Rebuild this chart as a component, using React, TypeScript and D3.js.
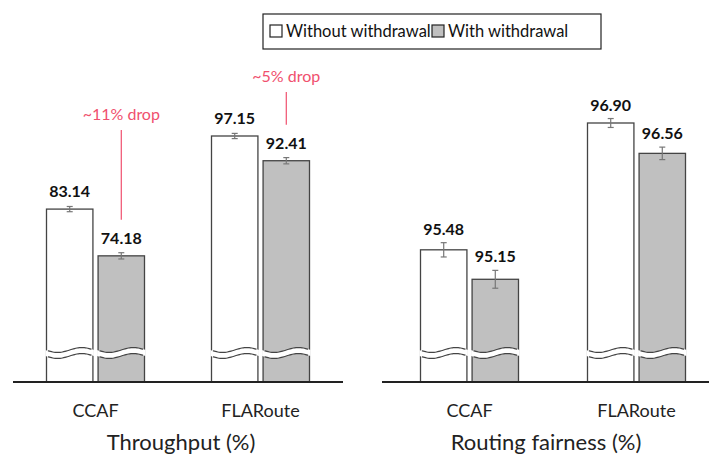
import { useRef, useEffect } from 'react';
import * as d3 from 'd3';

const categories = ['CCAF', 'FLARoute'];
const series = ['Without withdrawal', 'With withdrawal'];
const throughput = [[83.14, 74.18], [97.15, 92.41]];
const throughputErr = [[0.5, 0.6], [0.5, 0.6]];
const fairness = [[95.48, 95.15], [96.9, 96.56]];
const fairnessErr = [[0.08, 0.1], [0.05, 0.07]];
const drops = ['~11% drop', '~5% drop'];

const FONT = 'Lato, "Open Sans", sans-serif';

export default function App() {
  const svgRef = useRef<SVGSVGElement>(null);

  useEffect(() => {
    const svg = d3.select(svgRef.current);
    svg.selectAll('*').remove();
    const baseY = 382;
    const breakY = 353;

    const panels = [
      { title: 'Throughput (%)', values: throughput, err: throughputErr, range: [13, 343], line: [13, 343],
        y: d3.scaleLinear().domain([50, 97.15]).range([baseY, 136]) },
      { title: 'Routing fairness (%)', values: fairness, err: fairnessErr, range: [386, 720], line: [382, 709],
        y: d3.scaleLinear().domain([94, 96.9]).range([baseY, 123]) },
    ];

    panels.forEach((p, pi) => {
      const g = svg.append('g');
      const x0 = d3.scaleBand().domain(categories).range(p.range as [number, number]).paddingInner(0).paddingOuter(0);
      const x1 = d3.scaleBand().domain(series).range([-49, 49]).paddingInner(0.1);

      categories.forEach((c, ci) => {
        const cx = x0(c)! + x0.bandwidth() / 2;
        series.forEach((s, si) => {
          const v = p.values[ci][si];
          const bx = cx + x1(s)!;
          const bw = x1.bandwidth();
          const top = p.y(v);
          g.append('rect').attr('x', bx).attr('y', top).attr('width', bw).attr('height', baseY - top)
            .attr('fill', si === 0 ? '#fff' : '#c0c0c0').attr('stroke', '#444').attr('stroke-width', 1.3);
          // break
          const wave = (off: number) => d3.range(0, 21).map((i) => {
            const t = i / 20;
            return [bx - 1 + t * (bw + 2), breakY + off + 2.5 * Math.sin(t * Math.PI * 2)] as [number, number];
          });
          const upper = wave(-3);
          const lower = wave(3);
          const line = d3.line().curve(d3.curveBasis);
          g.append('path').attr('d', line(upper)! + 'L' + lower.slice().reverse().map((q) => q.join(',')).join('L') + 'Z')
            .attr('fill', '#fff').attr('stroke', 'none');
          g.append('path').attr('d', line(upper.slice(1, -1))).attr('fill', 'none').attr('stroke', '#444').attr('stroke-width', 1.2);
          g.append('path').attr('d', line(lower.slice(1, -1))).attr('fill', 'none').attr('stroke', '#444').attr('stroke-width', 1.2);
          // error bar
          const e = p.err[ci][si];
          const ex = bx + bw / 2;
          g.append('line').attr('x1', ex).attr('x2', ex).attr('y1', p.y(v + e)).attr('y2', p.y(v - e)).attr('stroke', '#777').attr('stroke-width', 1.2);
          [v + e, v - e].forEach((w) => g.append('line').attr('x1', ex - 3).attr('x2', ex + 3).attr('y1', p.y(w)).attr('y2', p.y(w)).attr('stroke', '#777').attr('stroke-width', 1.2));
          g.append('text').attr('x', ex).attr('y', Math.min(top - 12, p.y(v + e) - 8)).attr('text-anchor', 'middle')
            .attr('font-family', FONT).attr('font-weight', 'bold').attr('font-size', 16).attr('fill', '#111')
            .text(v.toFixed(2));
        });
        g.append('text').attr('x', cx).attr('y', 417).attr('text-anchor', 'middle')
          .attr('font-family', FONT).attr('font-size', 18).attr('fill', '#222').text(c);

        if (pi === 0) {
          const gx = cx + x1(series[1])! + x1.bandwidth() / 2;
          const gTop = p.y(p.values[ci][1]) - 36;
          const tY = ci === 0 ? 120 : 82;
          g.append('line').attr('x1', gx).attr('x2', gx).attr('y1', tY + 10).attr('y2', gTop)
            .attr('stroke', '#f0506e').attr('stroke-width', 1.2);
          g.append('text').attr('x', gx).attr('y', tY).attr('text-anchor', 'middle')
            .attr('font-family', FONT).attr('font-size', 16).attr('fill', '#f0506e').text(drops[ci]);
        }
      });

      g.append('line').attr('x1', p.line[0]).attr('x2', p.line[1]).attr('y1', baseY).attr('y2', baseY)
        .attr('stroke', '#222').attr('stroke-width', 1.8);
      g.append('text').attr('x', (p.range[0] + Math.min(p.range[1], 700)) / 2 + 3).attr('y', 450).attr('text-anchor', 'middle')
        .attr('font-family', FONT).attr('font-size', 22).attr('fill', '#222').text(p.title);
    });

    // legend
    const lg = svg.append('g');
    lg.append('rect').attr('x', 263).attr('y', 14).attr('width', 338).attr('height', 35).attr('fill', '#fff').attr('stroke', '#222').attr('stroke-width', 1.2);
    const lx = [270, 432];
    series.forEach((s, i) => {
      lg.append('rect').attr('x', lx[i]).attr('y', 25).attr('width', 12).attr('height', 12)
        .attr('fill', i === 0 ? '#fff' : '#c0c0c0').attr('stroke', '#222').attr('stroke-width', 1.2);
      lg.append('text').attr('x', lx[i] + 16).attr('y', 37).attr('font-family', FONT).attr('font-size', 16.5).attr('fill', '#111').text(s);
    });
  }, []);

  return <svg ref={svgRef} width={709} height={462} style={{ position: 'absolute', left: 0, top: 0, background: '#fff' }} />;
}
